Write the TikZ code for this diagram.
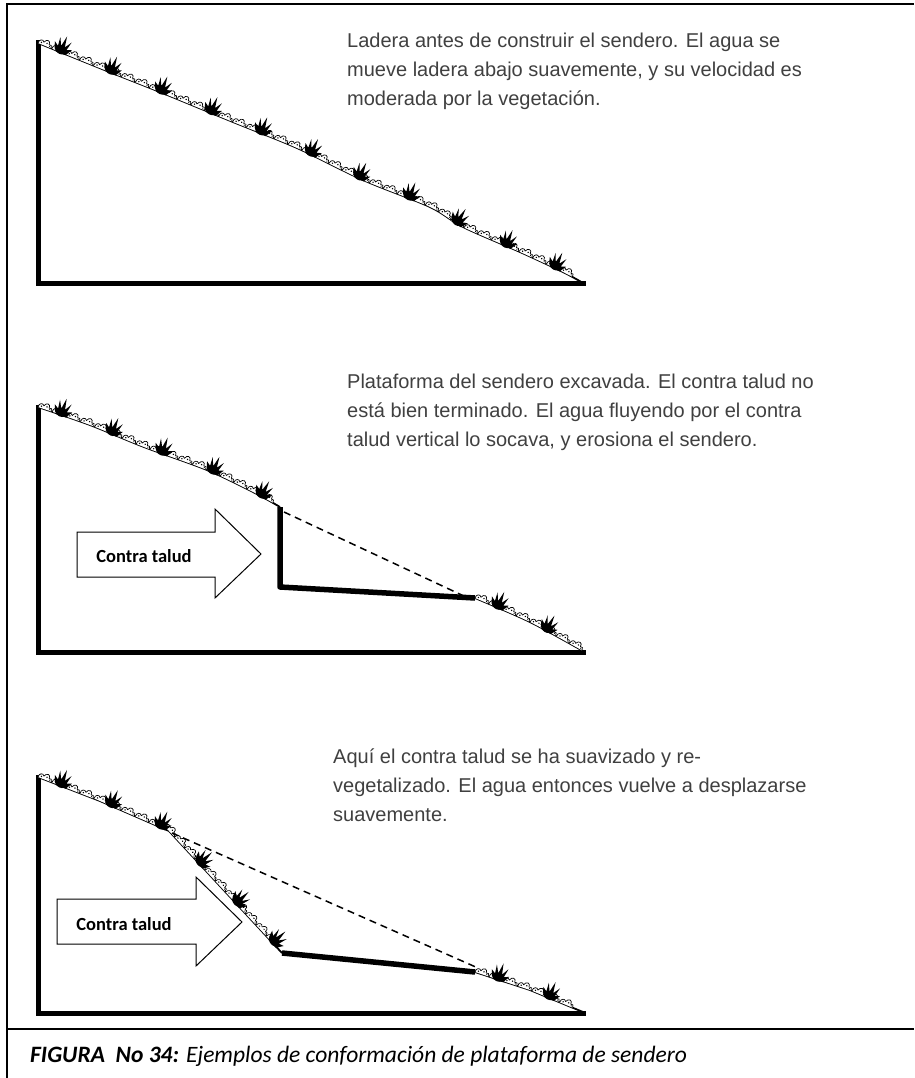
\documentclass[tikz,border=0pt]{standalone}
\usepackage{fontspec}
\setmainfont{Liberation Sans}
\newfontfamily\capfont{Carlito}
\usetikzlibrary{decorations.markings}

% small scalloped clump of low vegetation, drawn in the frame of the slope
\newcommand\vegclump{%
  \draw[line width=0.7pt, fill=white]
    (-7pt,0pt) .. controls (-7.5pt,4pt) and (-3.5pt,6pt) .. (-1.8pt,3pt)
    .. controls (-0.5pt,7.5pt) and (4.5pt,7pt) .. (4pt,2.5pt)
    .. controls (5.5pt,4pt) and (7.5pt,2.5pt) .. (7pt,0pt);
  \fill (-4pt,1.8pt) circle (0.8pt) (1.5pt,3pt) circle (0.8pt) (5pt,1.2pt) circle (0.6pt);
}
% dark spiky shrub standing on the slope
\newcommand\vegshrub{%
  \fill (-4.5pt,-1pt) .. controls (-7pt,2pt) .. (-9pt,8pt) -- (-4.5pt,5pt)
    -- (-5.5pt,14pt) -- (-1.5pt,6pt) -- (0.5pt,17pt) -- (2.5pt,6pt)
    -- (7pt,13pt) -- (5pt,4pt) -- (10pt,6pt) -- (6pt,-1pt) -- cycle;
  \fill (0pt,2.5pt) ellipse (6pt and 4.5pt);
}

\tikzset{
  frameline/.style={line width=1.6pt, black},
  basewall/.style={line width=5pt, line join=miter, line cap=rect},
  cutline/.style={line width=5.5pt, line join=round},
  ground/.style={line width=1.8pt, line join=round,
    postaction={decorate, decoration={markings,
      mark=between positions 7pt and -6pt step 15pt with {\vegclump}}},
    postaction={decorate, decoration={markings,
      mark=between positions 24pt and -12pt step 54pt with {\vegshrub}}}},
  trace/.style={line width=1.5pt, dash pattern=on 7pt off 5pt},
  blockarrow/.style={draw, line width=1pt, fill=white, line join=miter},
  para/.style={anchor=base west, inner sep=0pt, text=black!75,
    font=\fontsize{20}{29}\selectfont},
  arrowlabel/.style={inner sep=0pt, font=\capfont\bfseries\fontsize{18.5}{20}\selectfont},
}

\begin{document}
\begin{tikzpicture}[x=1pt,y=-1pt]
\useasboundingbox (0,0) rectangle (914,1078);
\fill[white] (0,0) rectangle (914,1078);

% outer frame and caption rule
\draw[frameline] (7,1078) -- (7,4) -- (914,4);
\draw[frameline] (7,1029) -- (914,1029);

% ---------- slope before the trail ----------
\coordinate (a-top) at (38,43);
\coordinate (a-corner) at (38,283);
\coordinate (a-toe) at (583,283);
\draw[basewall] (a-top) -- (a-corner) -- (a-toe);
\draw[ground] plot[smooth, tension=0.5] coordinates
  {(38,43) (107,71) (160,92) (233,122) (297,148) (363,180) (430,207) (463,227) (520,252) (563,272) (583,283)};
\node[para] (a-l1) at (347,48) {Ladera antes de construir el sendero. El agua se};
\node[para] (a-l2) at (347,77) {mueve ladera abajo suavemente, y su velocidad es};
\node[para] (a-l3) at (347,106) {moderada por la vegetación.};

% ---------- excavated platform, vertical cut ----------
\coordinate (b-top) at (38,407);
\coordinate (b-corner) at (38,652);
\coordinate (b-toe) at (583,652);
\coordinate (b-cuttop) at (280,507);
\coordinate (b-cutfoot) at (280,587);
\coordinate (b-edge) at (475,598);
\draw[basewall] (b-top) -- (b-corner) -- (b-toe);
\draw[ground] plot[smooth, tension=0.5] coordinates
  {(38,407) (90,425) (144,447) (207,470) (255,493) (280,507)};
\draw[cutline] (b-cuttop) -- (b-cutfoot) -- (b-edge);
\draw[ground] plot[smooth, tension=0.5] coordinates {(475,598) (530,622) (583,651)};
\draw[trace] (284,512) -- (466,597);
\draw[blockarrow] (77,532) -- (215,532) -- (215,509) -- (261,554) -- (215,598) -- (215,577) -- (77,577) -- cycle;
\node[arrowlabel] (b-label) at (144,556) {Contra talud};
\node[para] (b-l1) at (347,388) {Plataforma del sendero excavada. El contra talud no};
\node[para] (b-l2) at (347,417) {está bien terminado. El agua fluyendo por el contra};
\node[para] (b-l3) at (347,446) {talud vertical lo socava, y erosiona el sendero.};

% ---------- softened and revegetated cut ----------
\coordinate (c-top) at (38,777);
\coordinate (c-corner) at (38,1013);
\coordinate (c-toe) at (583,1013);
\coordinate (c-break) at (169,831);
\coordinate (c-foot) at (282,953);
\coordinate (c-edge) at (475,972);
\draw[basewall] (c-top) -- (c-corner) -- (c-toe);
\draw[ground] (c-top) -- (100,801) -- (c-break) -- (c-foot);
\draw[cutline] (c-foot) -- (c-edge);
\draw[ground] (c-edge) -- (530,990) -- (583,1012);
\draw[trace] (172,833) -- (478,968);
\draw[blockarrow] (57,899) -- (196,899) -- (196,877) -- (242,922) -- (196,966) -- (196,944) -- (57,944) -- cycle;
\node[arrowlabel] (c-label) at (124,924) {Contra talud};
\node[para] (c-l1) at (333,763) {Aquí el contra talud se ha suavizado y re-};
\node[para] (c-l2) at (333,792) {vegetalizado. El agua entonces vuelve a desplazarse};
\node[para] (c-l3) at (333,821) {suavemente.};

% caption
\node[anchor=base west, inner sep=0pt, font=\capfont\itshape\fontsize{23.5}{26}\selectfont]
  (caption) at (30,1062) {\bfseries FIGURA\ \ No 34:\mdseries{} Ejemplos de conformación de plataforma de sendero};
\end{tikzpicture}
\end{document}
